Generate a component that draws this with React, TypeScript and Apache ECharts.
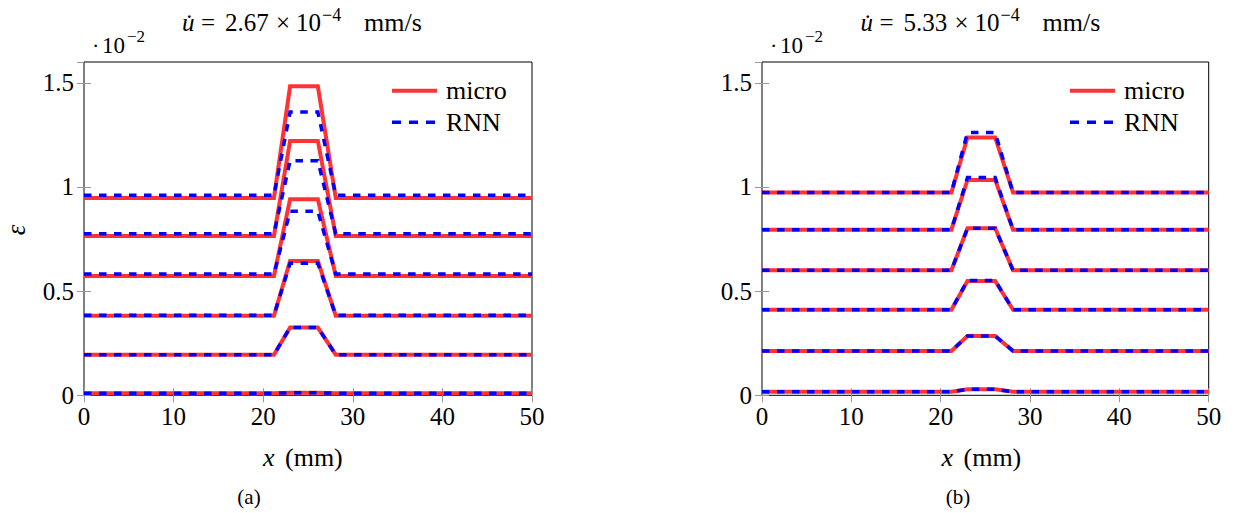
import React, { useEffect, useRef } from "react";
import * as echarts from "echarts";

// x positions (mm) of the profile nodes
const X_NODES = [0, 21.2, 23, 26.1, 28.1, 50];

// (a) u̇ = 2.67e-4 mm/s  — strain ×10^-2
const MICRO_A: number[][] = [
  [0.01, 0.01, 0.012, 0.012, 0.01, 0.01],
  [0.195, 0.195, 0.325, 0.325, 0.195, 0.195],
  [0.382, 0.382, 0.645, 0.645, 0.382, 0.382],
  [0.573, 0.573, 0.941, 0.941, 0.573, 0.573],
  [0.765, 0.765, 1.221, 1.221, 0.765, 0.765],
  [0.947, 0.947, 1.483, 1.483, 0.947, 0.947],
];
const RNN_A: number[][] = [
  [0.01, 0.01, 0.012, 0.012, 0.01, 0.01],
  [0.195, 0.195, 0.325, 0.325, 0.195, 0.195],
  [0.384, 0.384, 0.634, 0.634, 0.384, 0.384],
  [0.582, 0.582, 0.883, 0.883, 0.582, 0.582],
  [0.776, 0.776, 1.126, 1.126, 0.776, 0.776],
  [0.96, 0.96, 1.36, 1.36, 0.96, 0.96],
];

// (b) u̇ = 5.33e-4 mm/s
const MICRO_B: number[][] = [
  [0.017, 0.017, 0.029, 0.029, 0.017, 0.017],
  [0.213, 0.213, 0.285, 0.285, 0.213, 0.213],
  [0.411, 0.411, 0.549, 0.549, 0.411, 0.411],
  [0.6, 0.6, 0.802, 0.802, 0.6, 0.6],
  [0.795, 0.795, 1.034, 1.034, 0.795, 0.795],
  [0.973, 0.973, 1.238, 1.238, 0.973, 0.973],
];
const RNN_B: number[][] = [
  [0.017, 0.017, 0.029, 0.029, 0.017, 0.017],
  [0.213, 0.213, 0.285, 0.285, 0.213, 0.213],
  [0.411, 0.411, 0.551, 0.551, 0.411, 0.411],
  [0.6, 0.6, 0.802, 0.802, 0.6, 0.6],
  [0.795, 0.795, 1.045, 1.045, 0.795, 0.795],
  [0.973, 0.973, 1.261, 1.261, 0.973, 0.973],
];

const X_TICKS = { min: 0, max: 50, interval: 10 };
const Y_TICKS = { min: 0, max: 1.6, interval: 0.5 };

const RATES = ["2.67", "5.33"];
const RATE_EXP = "−4";
const SCALE_EXP = "−2";
const CAPTIONS = ["(a)", "(b)"];

const RED = "#ff3333";
const BLUE = "#0000ff";
const FONT = "Liberation Serif";
const DASH = [7.5, 7.5];

function curves(
  name: string,
  sets: number[][],
  axisIdx: number,
  color: string,
  width: number,
  dashed: boolean,
  z: number
) {
  return sets.map((vals) => ({
    type: "line",
    name,
    xAxisIndex: axisIdx,
    yAxisIndex: axisIdx,
    data: X_NODES.map((x, i) => [x, vals[i]]),
    symbol: "none",
    silent: true,
    z,
    itemStyle: { color },
    lineStyle: {
      color,
      width,
      type: dashed ? DASH : "solid",
      cap: "butt",
      join: "miter",
    },
  }));
}

function xAxis(gridIndex: number, top: boolean) {
  return {
    type: "value",
    gridIndex,
    position: top ? "top" : "bottom",
    ...X_TICKS,
    axisLine: { show: false },
    splitLine: { show: false },
    axisTick: { show: true, inside: true, length: 7, lineStyle: { color: "#999", width: 1 } },
    axisLabel: {
      show: !top,
      margin: 9,
      color: "#000",
      fontSize: 25,
      fontFamily: FONT,
    },
  };
}

function yAxis(gridIndex: number, right: boolean) {
  return {
    type: "value",
    gridIndex,
    position: right ? "right" : "left",
    ...Y_TICKS,
    axisLine: { show: false },
    splitLine: { show: false },
    axisTick: { show: true, inside: true, length: 7, lineStyle: { color: "#999", width: 1 } },
    axisLabel: {
      show: !right,
      showMaxLabel: false,
      margin: 10,
      color: "#000",
      fontSize: 25,
      fontFamily: FONT,
    },
  };
}

const HIDDEN_SYMBOL = { color: "rgba(0,0,0,0)", opacity: 0, borderWidth: 0 };

function legend(left: number) {
  return {
    left,
    top: 77.7,
    orient: "vertical",
    padding: 0,
    itemWidth: 45,
    itemHeight: 12,
    itemGap: 5.6,
    selectedMode: false,
    textStyle: {
      color: "#000",
      fontSize: 26,
      fontFamily: FONT,
      lineHeight: 26,
      padding: [0, 0, 0, 4],
    },
    data: [
      { name: "micro", itemStyle: HIDDEN_SYMBOL, lineStyle: { color: RED, width: 4, type: "solid" } },
      { name: "RNN", itemStyle: HIDDEN_SYMBOL, lineStyle: { color: BLUE, width: 3.5, type: [9, 8] } },
    ],
  };
}

function piece(
  text: string,
  x: number,
  y: number,
  size: number,
  opts: { italic?: boolean; align?: string; rotation?: number } = {}
) {
  return {
    type: "text",
    x,
    y,
    rotation: opts.rotation || 0,
    silent: true,
    style: {
      text,
      fontSize: size,
      fontFamily: FONT,
      fontStyle: opts.italic ? "italic" : "normal",
      fill: "#000",
      align: opts.align || "left",
      verticalAlign: "middle",
    },
  };
}

function title(dx: number, rate: string) {
  return [
    piece("u\u0307", 182 + dx, 22, 25, { italic: true }),
    piece("=", 201 + dx, 22, 25),
    piece(rate, 225 + dx, 22, 25),
    piece("×", 276 + dx, 22, 25),
    piece("10", 296 + dx, 22, 25),
    piece(RATE_EXP, 322 + dx, 15, 18),
    piece("mm/s", 364 + dx, 22, 26),
  ];
}

function scaleLabel(dx: number) {
  return [
    piece("·", 92 + dx, 45, 22),
    piece("10", 102 + dx, 45, 23),
    piece(SCALE_EXP, 127 + dx, 36, 17),
  ];
}

function xName(dx: number) {
  return [
    piece("x", 263 + dx, 457, 26, { italic: true }),
    piece("(mm)", 285 + dx, 457, 26),
  ];
}

export default function App() {
  const ref = useRef<HTMLDivElement>(null);
  useEffect(() => {
    if (!ref.current) return;
    const chart = echarts.init(ref.current, undefined, { renderer: "svg" });
    const option = {
      animation: false,
      backgroundColor: "#fff",
      grid: [
        { left: 84, top: 62, width: 448, height: 333.3, show: true, borderColor: "#000", borderWidth: 1, backgroundColor: "transparent" },
        { left: 762, top: 62, width: 446.7, height: 333.3, show: true, borderColor: "#000", borderWidth: 1, backgroundColor: "transparent" },
      ],
      xAxis: [xAxis(0, false), xAxis(1, false), xAxis(0, true), xAxis(1, true)],
      yAxis: [yAxis(0, false), yAxis(1, false), yAxis(0, true), yAxis(1, true)],
      legend: [legend(390), legend(1068)],
      series: [
        ...curves("micro", MICRO_A, 0, RED, 4, false, 2),
        ...curves("RNN", RNN_A, 0, BLUE, 3.5, true, 3),
        ...curves("micro", MICRO_B, 1, RED, 4, false, 2),
        ...curves("RNN", RNN_B, 1, BLUE, 3.5, true, 3),
      ],
      graphic: [
        ...title(0, RATES[0]),
        ...title(678.5, RATES[1]),
        ...scaleLabel(0),
        ...scaleLabel(678),
        ...xName(0),
        ...xName(678.5),
        piece(CAPTIONS[0], 249, 497, 21, { align: "center" }),
        piece(CAPTIONS[1], 958, 497, 21, { align: "center" }),
        piece("ε", 15.5, 230, 27, { italic: true, align: "center", rotation: Math.PI / 2 }),
      ],
    };
    chart.setOption(option as any);
    return () => chart.dispose();
  }, []);
  return (
    <div
      ref={ref}
      style={{ position: "absolute", left: 0, top: 0, width: 1240, height: 513 }}
    />
  );
}
